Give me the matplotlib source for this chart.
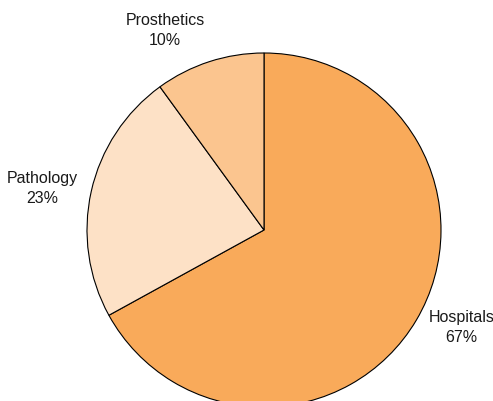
import matplotlib.pyplot as plt

plt.rcParams['font.family'] = ['Liberation Sans', 'DejaVu Sans']

categories = ["Hospitals", "Pathology", "Prosthetics"]
shares = [67, 23, 10]
colors = ["#f9aa5a", "#fde1c6", "#fbc58f"]

W, H = 493, 401
cx, cy = 264, 230  # pie centre, pixels from top-left
fig = plt.figure(figsize=(W / 100, H / 100), dpi=100)
ax = fig.add_axes([0, 0, 1, 1])

labels = [f"{c}\n{v}%" for c, v in zip(categories, shares)]
wedges, texts = ax.pie(
    shares, labels=labels, colors=colors, startangle=90, counterclock=False,
    radius=177, labeldistance=1.08, frame=True,
    wedgeprops=dict(edgecolor="black", linewidth=0.8),
    textprops=dict(fontsize=11.5, color="#1a1a1a", linespacing=1.4),
)
ax.set_xlim(-cx, W - cx)
ax.set_ylim(cy - H, cy)
ax.set_aspect("equal")
ax.axis("off")

# center each label's lines; labels near the top/bottom sit outside the rim
for t in texts:
    x, y = t.get_position()
    t.set_multialignment("center")
    if abs(y) > abs(x) * 2:
        t.set_va("bottom" if y > 0 else "top")

fig.savefig("out.png", dpi=100)
